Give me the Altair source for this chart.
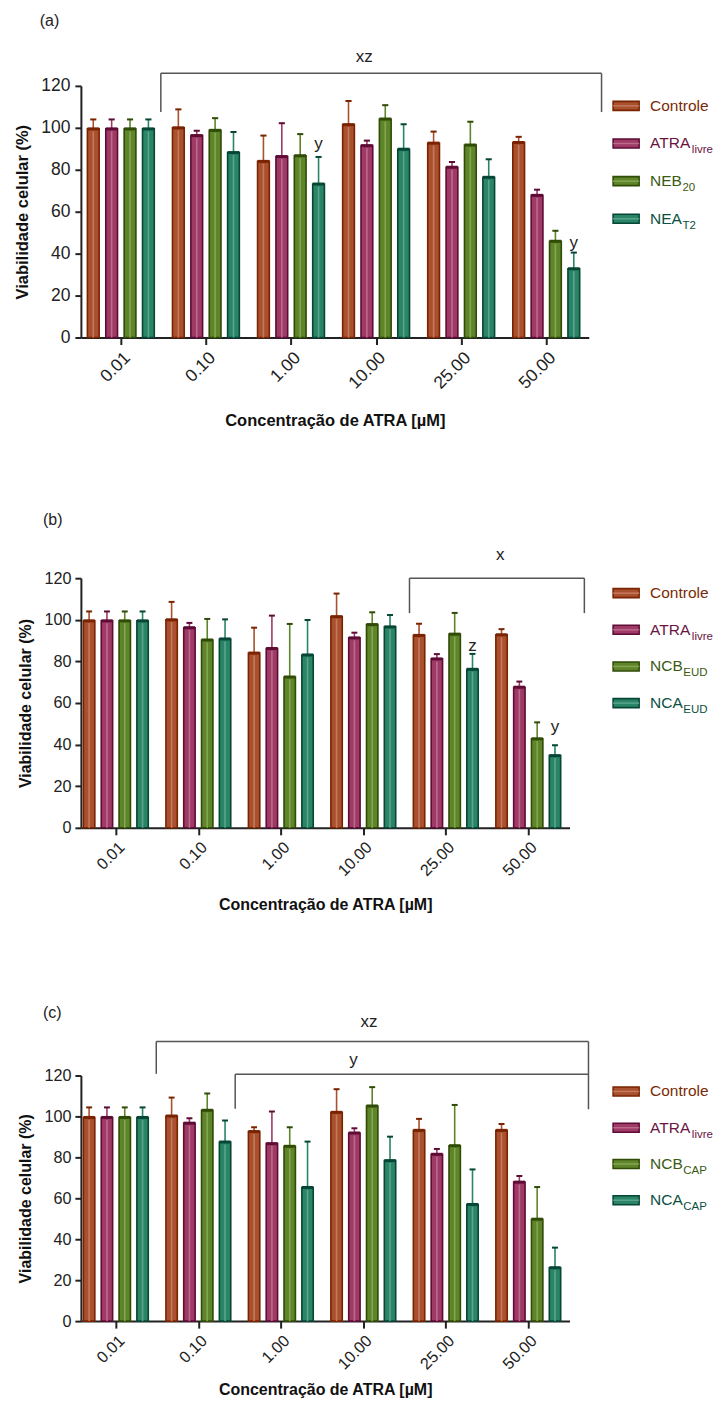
import json
import altair as alt
import pandas as pd

FONT = "Liberation Sans"

conc = ["0.01", "0.10", "1.00", "10.00", "25.00", "50.00"]

# ---------------- panel (a) ----------------
a_names = ["Controle", "ATRA", "NEB", "NEA"]
a_subs = ["", "livre", "20", "T2"]
a_controle = [99.5, 100.0, 84.0, 101.5, 92.7, 93.0]
a_controle_top = [104.0, 108.8, 96.3, 112.8, 98.2, 95.7]
a_atra = [99.5, 96.3, 86.3, 91.5, 81.2, 67.8]
a_atra_top = [104.0, 98.6, 102.2, 93.9, 83.7, 70.5]
a_neb = [99.5, 98.8, 86.7, 104.2, 91.8, 45.9]
a_neb_top = [104.0, 104.6, 97.0, 110.8, 102.9, 50.9]
a_nea = [99.5, 88.2, 73.2, 89.8, 76.4, 32.8]
a_nea_top = [104.0, 98.0, 86.1, 101.7, 85.0, 40.5]
a_note_text = ["y", "y"]
a_note_conc = ["1.00", "50.00"]
a_note_series = ["NEA", "NEA"]
a_note_y = [89.7, 42.7]
a_br_label = ["xz"]
a_br_left = [0.97]
a_br_right = [6.15]
a_br_top = [126.0]
a_br_lbot = [107.5]
a_br_rbot = [107.5]
a_br_label_x = [3.36]
a_br_label_y = [131.6]

# ---------------- panel (b) ----------------
b_names = ["Controle", "ATRA", "NCB", "NCA"]
b_subs = ["", "livre", "EUD", "EUD"]
b_controle = [99.5, 100.0, 84.0, 101.5, 92.5, 92.8]
b_controle_top = [104.0, 108.6, 96.2, 112.6, 98.1, 95.5]
b_atra = [99.5, 96.2, 86.2, 91.3, 81.2, 67.6]
b_atra_top = [104.0, 98.5, 102.0, 93.8, 83.5, 70.3]
b_ncb = [99.5, 90.3, 72.5, 97.7, 93.1, 42.8]
b_ncb_top = [104.0, 100.4, 98.0, 103.6, 103.3, 50.7]
b_nca = [99.5, 90.8, 83.1, 96.6, 76.2, 34.7]
b_nca_top = [104.0, 100.2, 99.9, 102.3, 83.6, 39.7]
b_note_text = ["z", "y"]
b_note_conc = ["25.00", "50.00"]
b_note_series = ["NCA", "NCA"]
b_note_y = [84.9, 45.9]
b_br_label = ["x"]
b_br_left = [4.06]
b_br_right = [6.18]
b_br_top = [120.0]
b_br_lbot = [103.2]
b_br_rbot = [103.2]
b_br_label_x = [5.16]
b_br_label_y = [128.9]

# ---------------- panel (c) ----------------
c_names = ["Controle", "ATRA", "NCB", "NCA"]
c_subs = ["", "livre", "CAP", "CAP"]
c_controle = [99.5, 100.2, 92.6, 102.0, 93.2, 93.2]
c_controle_top = [104.4, 109.2, 94.7, 113.3, 98.8, 96.3]
c_atra = [99.5, 96.7, 86.7, 91.9, 81.5, 67.9]
c_atra_top = [104.4, 99.1, 102.4, 94.2, 84.1, 70.9]
c_ncb = [99.5, 103.0, 85.4, 105.1, 85.7, 49.8]
c_ncb_top = [104.4, 111.2, 94.7, 114.3, 105.6, 65.5]
c_nca = [99.5, 87.5, 65.3, 78.4, 57.0, 26.1]
c_nca_top = [104.4, 98.0, 87.7, 90.1, 74.1, 35.9]
c_note_text = []
c_note_conc = []
c_note_series = []
c_note_y = []
c_br_label = ["xz", "y"]
c_br_left = [0.99, 1.947]
c_br_right = [6.23, 6.23]
c_br_top = [136.6, 120.6]
c_br_lbot = [120.8, 103.7]
c_br_rbot = [103.5, 120.6]
c_br_label_x = [3.57, 3.38]
c_br_label_y = [143.5, 125.2]

# ---------------- styling ----------------
DARK = ["#7a2300", "#5e0b35", "#2f4b06", "#064637"]
FILL = ["#a9502f", "#9f3a66", "#5e8529", "#2a8466"]
LIGHT = ["#c67a5c", "#bb6a8c", "#86a553", "#5aa58c"]
TEXTC = ["#7a2a05", "#6a1442", "#3b5a12", "#0c5040"]

ARIAL = {"A": .667, "T": .611, "R": .722, "N": .722, "E": .667, "B": .667,
         "C": .722, "o": .556, "n": .556, "t": .278, "r": .333, "l": .222, "e": .556}

LEG_FS = 15.5
SUB_FS = 11.5
ORIGIN = 79.0   # page x of the common plot origin (layout)


def text_width(s, size):
    return sum(ARIAL.get(ch, .556) for ch in s) * size


def make_panel(letter, names, subs, means, tops, notes, brackets, x0_px, group_px, H,
               tick_fs, title_fs, lab_pad, xtitle_pad, leg_x_page, leg_top_px,
               leg_step_px, title_off):
    dmin = (ORIGIN - x0_px) / group_px
    W = (6 - dmin) * group_px
    upy = H / 120.0
    rows = []
    for j, (m_list, t_list) in enumerate(zip(means, tops)):
        for i, c in enumerate(conc):
            xc = i + 0.5 + (j - 1.5) * 0.216
            rows.append(dict(conc=c, series=names[j], mean=m_list[i], top=t_list[i],
                             zero=0.0, xc=xc, xl=xc - 0.069, xr=xc + 0.069,
                             cl=xc - 0.036, cr=xc + 0.036, stripe_top=m_list[i] - 1.2,
                             dark=DARK[j], fill=FILL[j], light=LIGHT[j]))
    df = pd.DataFrame(rows)

    xscale = alt.Scale(domain=[dmin, 6], nice=False, zero=False)
    yscale = alt.Scale(domain=[0, 120], nice=False)
    labexpr = json.dumps(conc) + "[floor(datum.value)]"
    xaxis = alt.Axis(values=[i + 0.5 for i in range(6)], labelExpr=labexpr, labelAngle=-45,
                     title="Concentração de ATRA [µM]", titleFontWeight="bold",
                     titleFontSize=title_fs, titleFont=FONT, labelFont=FONT,
                     labelFontSize=tick_fs, labelColor="#222", titleColor="#111",
                     domainColor="#222", domainWidth=2, tickColor="#222", tickWidth=2,
                     tickSize=7, labelPadding=4, titlePadding=xtitle_pad, grid=False)
    yaxis = alt.Axis(values=[0, 20, 40, 60, 80, 100, 120], title="Viabilidade celular (%)",
                     titleFontWeight="bold", titleFontSize=title_fs, titleFont=FONT,
                     labelFont=FONT, labelFontSize=tick_fs, labelColor="#222",
                     titleColor="#111", domainColor="#222", domainWidth=2,
                     tickColor="#222", tickWidth=2, tickSize=6, labelPadding=lab_pad,
                     titlePadding=10, grid=False)

    def X(f):
        return alt.X(f, type="quantitative", scale=xscale, axis=xaxis)

    def Y(f):
        return alt.Y(f, type="quantitative", scale=yscale, axis=yaxis)

    base = alt.Chart(df)
    whisk = base.mark_rule(strokeWidth=1.6).encode(
        x=X("xc"), y=Y("mean"), y2="top", color=alt.Color("fill:N", scale=None))
    cap = base.mark_rule(strokeWidth=2).encode(
        x=X("cl"), x2="cr", y=Y("top"), y2="top", color=alt.Color("dark:N", scale=None))
    bars = base.mark_bar(strokeWidth=1.6).encode(
        x=X("xl"), x2="xr", y=Y("mean"), y2="zero",
        fill=alt.Fill("fill:N", scale=None), stroke=alt.Stroke("dark:N", scale=None))
    stripe = base.mark_rule(strokeWidth=1.6).encode(
        x=X("xc"), y=Y("zero"), y2="stripe_top", color=alt.Color("light:N", scale=None))
    topline = base.mark_rule(strokeWidth=3).encode(
        x=X("xl"), x2="xr", y=Y("mean"), y2="mean", color=alt.Color("dark:N", scale=None))

    layers = [whisk, bars, stripe, topline, cap]

    n_text, n_conc, n_series, n_y = notes
    if n_text:
        nd = pd.DataFrame(dict(text=n_text, conc=n_conc, series=n_series, y=n_y))
        nd["xc"] = [conc.index(c) + 0.5 + (names.index(s) - 1.5) * 0.216
                    for c, s in zip(n_conc, n_series)]
        layers.append(alt.Chart(nd).mark_text(font=FONT, fontSize=17, color="#222",
                                               baseline="alphabetic").encode(
            x=X("xc"), y=Y("y"), text="text:N"))

    bl, bleft, bright, btop, blbot, brbot, blx, bly = brackets
    segs = []
    for k in range(len(bl)):
        segs.append(dict(x=bleft[k], x2=bright[k], y=btop[k], y2=btop[k]))
        segs.append(dict(x=bleft[k], x2=bleft[k], y=btop[k], y2=blbot[k]))
        segs.append(dict(x=bright[k], x2=bright[k], y=btop[k], y2=brbot[k]))
    sd = pd.DataFrame(segs)
    layers.append(alt.Chart(sd).mark_rule(strokeWidth=1.5, color="#555").encode(
        x=X("x"), x2="x2", y=Y("y"), y2="y2"))
    ld = pd.DataFrame(dict(text=bl, x=blx, y=bly))
    layers.append(alt.Chart(ld).mark_text(font=FONT, fontSize=17, color="#222",
                                           baseline="alphabetic").encode(
        x=X("x"), y=Y("y"), text="text:N"))

    # legend drawn in the chart's own coordinates
    def ux(page_px):
        return (page_px - x0_px) / group_px

    leg = []
    for j, nm in enumerate(names):
        yv = 120 - (leg_top_px + j * leg_step_px) / upy
        leg.append(dict(name=nm, sub=subs[j], y=yv, ylo=yv - 4.5 / upy, yhi=yv + 4.5 / upy,
                        x0=ux(leg_x_page), x1=ux(leg_x_page + 26), xt=ux(leg_x_page + 37),
                        xs=ux(leg_x_page + 37 + text_width(nm, LEG_FS) + 0.5),
                        dark=DARK[j], fill=FILL[j], light=LIGHT[j], tc=TEXTC[j]))
    lg = pd.DataFrame(leg)
    lbase = alt.Chart(lg)
    layers.append(lbase.mark_rect(strokeWidth=1.6).encode(
        x=X("x0"), x2="x1", y=Y("ylo"), y2="yhi",
        fill=alt.Fill("fill:N", scale=None), stroke=alt.Stroke("dark:N", scale=None)))
    layers.append(lbase.mark_rule(strokeWidth=1.5).encode(
        x=X("x0"), x2="x1", y=Y("y"), y2="y", color=alt.Color("light:N", scale=None)))
    layers.append(lbase.mark_text(font=FONT, fontSize=LEG_FS, align="left",
                                  baseline="middle").encode(
        x=X("xt"), y=Y("y"), text="name:N", color=alt.Color("tc:N", scale=None)))
    lsub = lg[lg["sub"] != ""]
    layers.append(alt.Chart(lsub).mark_text(font=FONT, fontSize=SUB_FS, align="left",
                                            baseline="middle", dy=7).encode(
        x=X("xs"), y=Y("y"), text="sub:N", color=alt.Color("tc:N", scale=None)))

    return alt.layer(*layers).properties(
        width=W, height=H,
        title=alt.TitleParams(letter, anchor="start", frame="bounds", font=FONT,
                              fontSize=16, fontWeight="normal", color="#222", dx=25,
                              offset=title_off))


pa = make_panel("(a)", ["Controle", "ATRA", "NEB", "NEA"], a_subs,
                [a_controle, a_atra, a_neb, a_nea],
                [a_controle_top, a_atra_top, a_neb_top, a_nea_top],
                (a_note_text, a_note_conc, a_note_series, a_note_y),
                (a_br_label, a_br_left, a_br_right, a_br_top, a_br_lbot, a_br_rbot,
                 a_br_label_x, a_br_label_y),
                76.4, 85.2, 252, 17.5, 16.5, 5, 21, 612, 20, 37.7, 19)
pb = make_panel("(b)", ["Controle", "ATRA", "NCB", "NCA"], b_subs,
                [b_controle, b_atra, b_ncb, b_nca],
                [b_controle_top, b_atra_top, b_ncb_top, b_nca_top],
                (b_note_text, b_note_conc, b_note_series, b_note_y),
                (b_br_label, b_br_left, b_br_right, b_br_top, b_br_lbot, b_br_rbot,
                 b_br_label_x, b_br_label_y),
                72.7, 82.6, 250, 16.2, 16, 4, 18, 612, 15, 36.7, 18)
pc = make_panel("(c)", ["Controle", "ATRA", "NCB", "NCA"], c_subs,
                [c_controle, c_atra, c_ncb, c_nca],
                [c_controle_top, c_atra_top, c_ncb_top, c_nca_top],
                (c_note_text, c_note_conc, c_note_series, c_note_y),
                (c_br_label, c_br_left, c_br_right, c_br_top, c_br_lbot, c_br_rbot,
                 c_br_label_x, c_br_label_y),
                72.7, 82.6, 246, 16.2, 16, 4, 9, 612, 16, 36.3, -8)

lower = alt.concat(pb, pc, columns=1, align="none", spacing=91)
chart = alt.concat(pa, lower, columns=1, align="none", spacing=82).properties(
    padding={"left": 6, "top": 3, "right": 0, "bottom": 0}
).configure(font=FONT, background="white", view=alt.ViewConfig(stroke=None))

chart.save("out.html", embed_options={"renderer": "svg", "actions": False})
